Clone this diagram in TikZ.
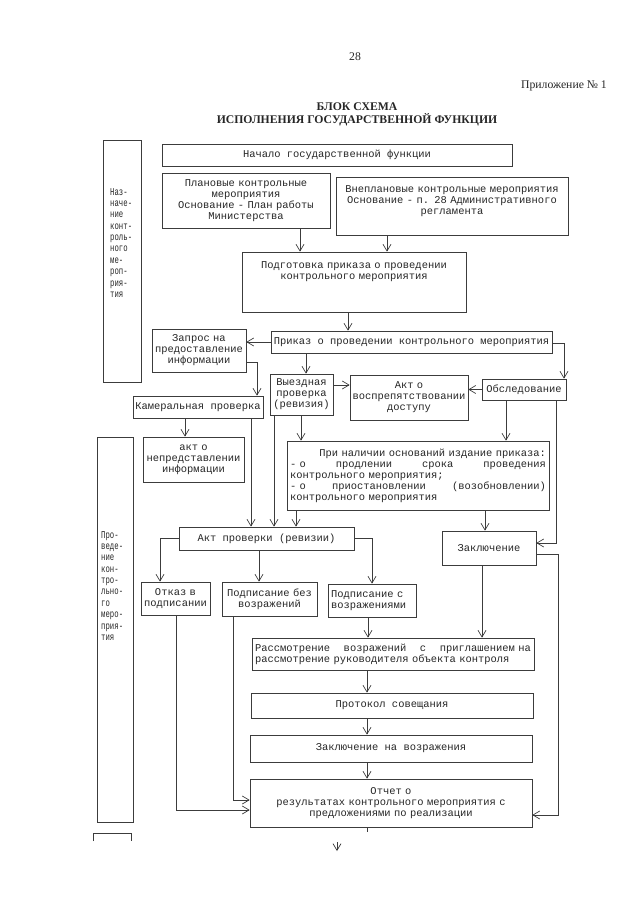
\documentclass[tikz,border=0pt]{standalone}
\usepackage{fontspec}
\setmainfont{Liberation Serif}
\newfontfamily\mono{Liberation Mono}
\newfontfamily\narrowmono[FakeStretch=0.7]{Liberation Mono}
\usetikzlibrary{arrows.meta}
\definecolor{Paper}{HTML}{FFFFFF}
\definecolor{Ink}{HTML}{3C3C3C}
\definecolor{Txt}{HTML}{262626}
\newcommand\boxfont{\mono\fontsize{8.9}{9.4}\selectfont}
\newcommand\sidefont{\narrowmono\fontsize{8.9}{9.7}\selectfont}

\begin{document}
\begin{tikzpicture}[x=0.3mm, y=-0.3mm, >={Straight Barb[length=2mm,width=2.4mm]}, box/.style={draw=Ink,line width=0.6pt,text=Txt,font=\boxfont,inner sep=1pt,align=center}, sidebox/.style={draw=Ink,line width=0.6pt}, side/.style={font=\sidefont,text=Txt,align=left,inner sep=0pt,anchor=north west}, flow/.style={->,draw=Ink,line width=0.6pt}, wire/.style={draw=Ink,line width=0.6pt}]
\fill[Paper] (0,0) rectangle (640,905);
\useasboundingbox (0,0) rectangle (640,905);
\node[font=\fontsize{10}{11}\selectfont,text=Txt] (page) at (355,57) {28};
\node[font=\fontsize{10}{11}\selectfont,text=Txt,anchor=east] (annex) at (611,86) {Приложение № 1};
\node[font=\bfseries\fontsize{10}{11.1}\selectfont,text=Txt,align=center] (title) at (357,114.5) {БЛОК СХЕМА\\ИСПОЛНЕНИЯ ГОСУДАРСТВЕННОЙ ФУНКЦИИ};
\node[sidebox,minimum width=11.4mm,minimum height=72.6mm] (assign) at (122,261) {};
\node[side] (assigntext) at (110,188) {Наз-\\наче-\\ние\\конт-\\роль-\\ного\\ме-\\роп-\\рия-\\тия};
\node[sidebox,minimum width=10.8mm,minimum height=115.5mm] (conduct) at (115,629.5) {};
\node[side] (conducttext) at (101,531) {Про-\\веде-\\ние\\кон-\\тро-\\льно-\\го\\меро-\\прия-\\тия};
\draw[wire] (93,841) |- (131,833) -- (131,841);
\node[box,minimum width=105mm,minimum height=6.6mm] (start) at (337,155) {Начало государственной функции};
\node[box,minimum width=50.4mm,minimum height=16.5mm,text width=48mm] (planned) at (246,200.5) {Плановые контрольные\\мероприятия\\Основание - План работы\\Министерства};
\node[box,minimum width=69.6mm,minimum height=17.4mm,text width=68.4mm] (unplanned) at (452,206) {Внеплановые контрольные мероприятия\\Основание - п. 28 Административного\\регламента\\~};
\node[box,minimum width=67.2mm,minimum height=18mm,text width=64.8mm] (draft) at (354,282) {Подготовка приказа о проведении\\контрольного мероприятия\\~\\~};
\node[box,minimum width=84.3mm,minimum height=6.6mm] (order) at (411.5,342) {Приказ о проведении контрольного мероприятия};
\node[box,minimum width=28.2mm,minimum height=12.9mm,text width=27mm] (request) at (199,350.5) {Запрос на\\предоставление\\информации};
\node[box,minimum width=39mm,minimum height=6.6mm] (desk) at (198,407) {Камеральная проверка};
\node[box,minimum width=18.9mm,minimum height=12.3mm,text width=18mm] (field) at (301.5,394.5) {Выездная\\проверка\\(ревизия)};
\node[box,minimum width=35.4mm,minimum height=13.5mm,text width=34.5mm] (obstruct) at (409,397.5) {Акт о\\воспрепятствовании\\доступу};
\node[box,minimum width=25.2mm,minimum height=6.3mm] (survey) at (524,389.5) {Обследование};
\node[box,minimum width=30.3mm,minimum height=13.5mm,text width=29.1mm] (noinfo) at (193.5,459.5) {акт о\\непредставлении\\информации};
\node[box,minimum width=78.6mm,minimum height=20.7mm,text width=76.8mm,align=left] (grounds) at (418,475.5) {\makebox[\hsize][l]{\hfill При наличии оснований издание приказа:}\\\makebox[\hsize][l]{- о\hfill продлении\hfill срока\hfill проведения}\\контрольного мероприятия;\\\makebox[\hsize][l]{- о\hfill приостановлении\hfill (возобновлении)}\\контрольного мероприятия};
\node[box,minimum width=52.5mm,minimum height=6.9mm] (report) at (266.5,538.5) {Акт проверки (ревизии)};
\node[box,minimum width=28.2mm,minimum height=10.2mm] (finding) at (489,548) {Заключение};
\node[box,minimum width=20.7mm,minimum height=9.9mm,text width=19.8mm] (refuse) at (175.5,598.5) {Отказ в\\подписании};
\node[box,minimum width=28.5mm,minimum height=10.2mm,text width=27.6mm] (signed) at (269.5,599) {Подписание без\\возражений};
\node[box,minimum width=26.4mm,minimum height=9.9mm,text width=24.6mm,align=left] (objected) at (372,600.5) {Подписание с\\возражениями};
\node[box,minimum width=84.6mm,minimum height=9.6mm,text width=82.8mm,align=left] (hearing) at (393,654) {\makebox[\hsize][l]{Рассмотрение\hfill возражений\hfill с\hfill приглашением на}\\рассмотрение руководителя объекта контроля};
\node[box,minimum width=84.6mm,minimum height=7.5mm] (minutes) at (392,705.5) {Протокол совещания};
\node[box,minimum width=84.6mm,minimum height=8.1mm] (reply) at (391,748.5) {Заключение на возражения};
\node[box,minimum width=84.6mm,minimum height=14.4mm,text width=82.8mm] (result) at (391,803) {Отчет о\\результатах контрольного мероприятия с\\предложениями по реализации};
\coordinate (nextpage) at (337,851);
\draw[flow] (planned.south -| 300,0) -- (draft.north -| 300,0);
\draw[flow] (unplanned.south -| 387,0) -- (draft.north -| 387,0);
\draw[flow] (draft.south -| 348,0) -- (order.north -| 348,0);
\draw[flow] (order.west) -- (order.west -| request.east);
\draw[flow] (request.east |- 0,362) -| (desk.north -| 257,0);
\draw[flow] (order.south -| 306,0) -- (field.north -| 306,0);
\draw[flow] (order.east |- 0,343) -| (survey.north -| 564,0);
\draw[flow] (field.east |- 0,385) -- (obstruct.west |- 0,385);
\draw[flow] (survey.west) -- (survey.west -| obstruct.east);
\draw[flow] (desk.south -| 185,0) -- (noinfo.north -| 185,0);
\draw[flow] (field.south -| 301,0) -- (grounds.north -| 301,0);
\draw[flow] (survey.south -| 506,0) -- (grounds.north -| 506,0);
\draw[flow] (survey.south -| 556,0) |- (finding.east |- 0,543);
\draw[flow] (desk.south -| 251,0) -- (report.north -| 251,0);
\draw[flow] (field.south -| 274,0) -- (report.north -| 274,0);
\draw[flow] (grounds.south -| 296,0) -- (report.north -| 296,0);
\draw[flow] (grounds.south -| 485,0) -- (finding.north -| 485,0);
\draw[flow] (report.west) -| (refuse.north -| 160,0);
\draw[flow] (report.south -| 259,0) -- (signed.north -| 259,0);
\draw[flow] (report.east) -| (objected.north -| 372,0);
\draw[flow] (objected.south -| 368,0) -- (hearing.north -| 368,0);
\draw[flow] (finding.south -| 482,0) -- (hearing.north -| 482,0);
\draw[flow] (hearing.south -| 367,0) -- (minutes.north -| 367,0);
\draw[flow] (minutes.south -| 367,0) -- (reply.north -| 367,0);
\draw[flow] (reply.south -| 367,0) -- (result.north -| 367,0);
\draw[flow] (signed.south -| 233,0) |- (result.west |- 0,800);
\draw[flow] (refuse.south -| 176,0) |- (result.west |- 0,810);
\draw[flow] (finding.east |- 0,554) -- ++(22,0) |- (result.east |- 0,815);
\draw[wire] (result.south -| 367,0) -- ++(0,5);
\draw[flow] ([yshift=2.7mm]nextpage) -- (nextpage);
\end{tikzpicture}
\end{document}
